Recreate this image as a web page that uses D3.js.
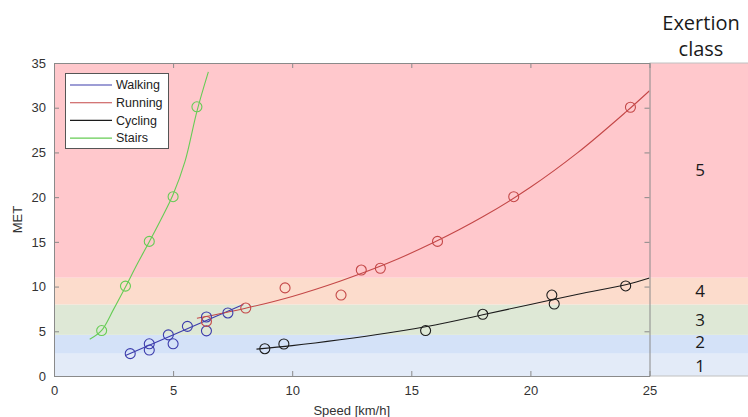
<!DOCTYPE html>
<html><head><meta charset="utf-8">
<script src="https://cdn.jsdelivr.net/npm/d3@7"></script>
<style>body{margin:0;background:#fff}svg{display:block}</style>
</head><body><svg id="c" width="748" height="417"></svg>
<script>
// ---- data ----
const xTicks = [0,5,10,15,20,25];
const yTicks = [0,5,10,15,20,25,30,35];
const classBounds = [0,2.5,4.6,8,11,35];
const classLabels = ["1","2","3","4","5"];
const classLabelMET = [1.15,3.8,6.3,9.55,23];
const classColors = ["#e3ebf8","#d4e2f8","#dee8d6","#fcdccc","#ffc8cc"];
const seriesNames = ["Walking","Running","Cycling","Stairs"];
const seriesColors = ["#3c3cac","#c44848","#1c1c1c","#66cc55"];
const walkX = [3.2,4.0,4.0,4.8,5.0,5.6,6.4,6.4,7.3];
const walkY = [2.5,3.6,2.9,4.6,3.6,5.55,6.6,5.05,7.05];
const runX = [6.4,8.05,9.7,12.05,12.9,13.7,16.1,19.3,24.2];
const runY = [6.1,7.6,9.85,9.05,11.85,12.05,15.05,20.05,30.05];
const cycX = [8.85,9.65,15.6,18.0,20.9,21.0,24.0];
const cycY = [3.05,3.58,5.08,6.9,9.05,8.05,10.07];
const stairX = [2,3,4,5,6];
const stairY = [5.08,10.05,15.05,20.05,30.1];
// fitted curves
const walkFitX = [3.0,7.95];
const walkFitY = [2.3,8.0];
const runFitX = [6,8,10,12,14,16,18,20,22,24,25];
const runFitY = [6.45,7.55,8.9,10.6,12.6,15.0,17.8,21.1,25.0,29.5,31.9];
const cycFitX = [8.5,10,12,14,16,18,20,22,24,25];
const cycFitY = [3.0,3.4,4.05,4.8,5.7,6.85,8.0,9.15,10.2,10.95];
const stairFitX = [1.5,2,2.5,3,3.5,4,4.5,5,5.5,6,6.48];
const stairFitY = [4.1,5.1,7.45,9.95,12.55,15.0,17.55,20.3,24.0,29.6,34.0];

// ---- drawing ----
const svg = d3.select("#c");
const x = d3.scaleLinear().domain([0,25]).range([54,649.5]);
const y = d3.scaleLinear().domain([0,35]).range([376,63]);
const panelR = 748;
const axisCol = "#8a8a8a";
const font = "'Liberation Sans', Arial, sans-serif";

// bands
svg.append("g").selectAll("rect").data(classLabels).join("rect")
  .attr("x", x(0)).attr("width", panelR - x(0))
  .attr("y", (d,i)=>y(classBounds[i+1]))
  .attr("height", (d,i)=>y(classBounds[i]) - y(classBounds[i+1]))
  .attr("fill", (d,i)=>classColors[i]);

// panel borders
svg.append("line").attr("x1", x(25)).attr("x2", panelR).attr("y1", y(35)).attr("y2", y(35))
  .attr("stroke", "#c0c0c0").attr("stroke-width", 1);
svg.append("line").attr("x1", x(25)).attr("x2", panelR).attr("y1", y(0)).attr("y2", y(0))
  .attr("stroke", "#c0c0c0").attr("stroke-width", 1);

// class labels
const cls = svg.append("g").attr("font-family", "'Open Sans', Calibri, sans-serif").attr("fill", "#1a1a1a")
  .attr("text-anchor", "middle");
cls.selectAll("text").data(classLabels).join("text")
  .attr("x", 700)
  .attr("y", (d,i)=> y(classLabelMET[i]))
  .attr("dy", "0.36em").attr("font-size", 17).text(d=>d);
cls.append("text").attr("x", 701).attr("y", 30).attr("font-size", 20).text("Exertion");
cls.append("text").attr("x", 701).attr("y", 56).attr("font-size", 20).text("class");

// curves
const line = d3.line().x(d=>x(d[0])).y(d=>y(d[1])).curve(d3.curveCatmullRom);
const fits = [
  [walkFitX, walkFitY], [runFitX, runFitY], [cycFitX, cycFitY], [stairFitX, stairFitY]
];
const pts = [[walkX,walkY],[runX,runY],[cycX,cycY],[stairX,stairY]];
svg.append("clipPath").attr("id","pc").append("rect")
  .attr("x", x(0)).attr("y", y(35)).attr("width", x(25)-x(0)).attr("height", y(0)-y(35));
const plot = svg.append("g").attr("clip-path","url(#pc)");
fits.forEach((f,i)=>{
  plot.append("path").datum(d3.zip(f[0], f[1])).attr("d", line)
    .attr("fill","none").attr("stroke", seriesColors[i]).attr("stroke-width", 1.1);
});
pts.forEach((p,i)=>{
  plot.append("g").selectAll("circle").data(d3.zip(p[0], p[1])).join("circle")
    .attr("cx", d=>x(d[0])).attr("cy", d=>y(d[1])).attr("r", 5)
    .attr("fill","none").attr("stroke", seriesColors[i]).attr("stroke-width", 1.1);
});

// axes
function style(g){
  g.selectAll(".domain").attr("stroke", axisCol);
  g.selectAll(".tick line").attr("stroke", axisCol);
  g.selectAll("text").attr("fill", "#333").attr("font-size", 13).attr("font-family", font);
}
svg.append("g").attr("transform", `translate(0,${y(0)})`)
  .call(d3.axisBottom(x).tickValues(xTicks).tickSizeInner(-5).tickSizeOuter(0).tickPadding(10))
  .call(style);
svg.append("g").attr("transform", `translate(0,${y(35)})`)
  .call(d3.axisTop(x).tickValues(xTicks).tickSizeInner(-5).tickSizeOuter(0).tickFormat(""))
  .call(style);
svg.append("g").attr("transform", `translate(${x(0)},0)`)
  .call(d3.axisLeft(y).tickValues(yTicks).tickSizeInner(-5).tickSizeOuter(0).tickPadding(8))
  .call(style);
svg.append("g").attr("transform", `translate(${x(25)},0)`)
  .call(d3.axisRight(y).tickValues(yTicks).tickSizeInner(-5).tickSizeOuter(0).tickFormat(""))
  .call(style);

// axis titles
svg.append("text").attr("x", (x(0)+x(25))/2).attr("y", 415).attr("text-anchor","middle")
  .attr("font-family", font).attr("font-size", 13).attr("fill", "#333").text("Speed [km/h]");
svg.append("text").attr("transform", `translate(22,${(y(0)+y(35))/2}) rotate(-90)`)
  .attr("text-anchor","middle").attr("font-family", font).attr("font-size", 13).attr("fill", "#333").text("MET");

// legend
const lg = svg.append("g");
lg.append("rect").attr("x", 65.5).attr("y", 73.5).attr("width", 103).attr("height", 75)
  .attr("fill", "#fff").attr("stroke", "#555").attr("stroke-width", 1);
seriesNames.forEach((n,i)=>{
  const yy = 85 + i*17.7;
  lg.append("line").attr("x1", 70).attr("x2", 112).attr("y1", yy).attr("y2", yy)
    .attr("stroke", seriesColors[i]).attr("stroke-width", 1.1);
  lg.append("text").attr("x", 116).attr("y", yy).attr("dy", "0.35em")
    .attr("font-family", font).attr("font-size", 12.5).attr("fill", "#222").text(n);
});
</script></body></html>
